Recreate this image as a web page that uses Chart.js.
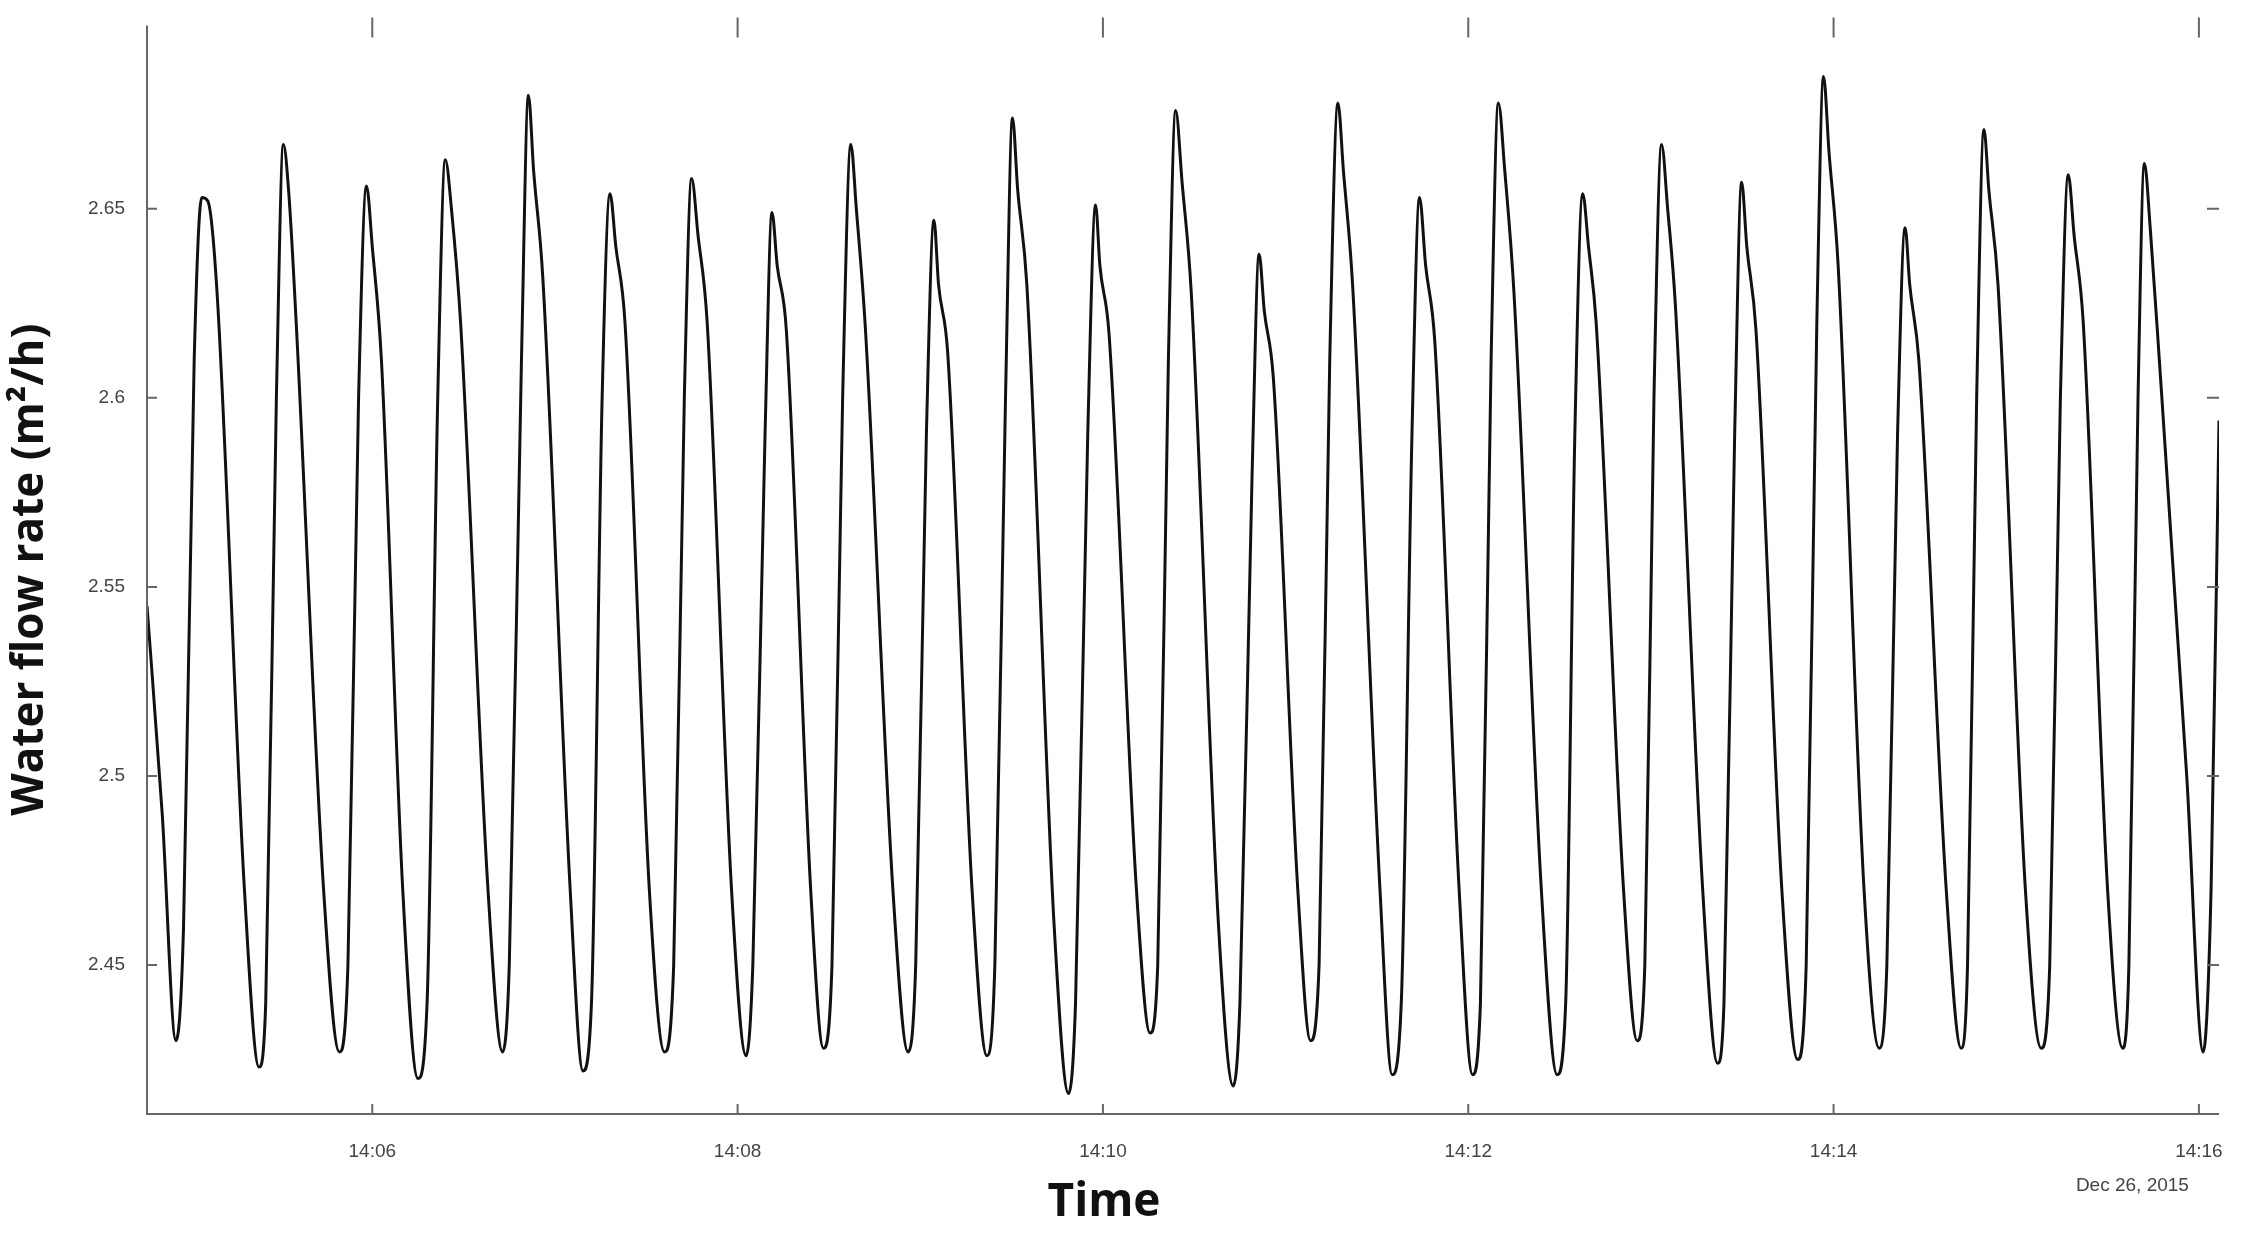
<!DOCTYPE html>
<html>
<head>
<meta charset="utf-8">
<script src="https://cdn.jsdelivr.net/npm/chart.js"></script>
<style>
  html, body { margin: 0; padding: 0; background: #fff; }
  #wrap { width: 2242px; height: 1244px; }
</style>
</head>
<body>
<div id="wrap"><canvas id="flowChart"></canvas></div>
<script>
// time in seconds after 14:00, flow in m2/h
const timeSec = [
  286, 291, 295.5, 298, 301.5, 304, 306, 309, 318, 322.8,
  325, 328.5, 330.8, 332.5, 335, 344, 349.2,
  352, 355.5, 358.1, 360, 363, 370, 375,
  378, 381.5, 384, 386, 389, 398, 402.8,
  405, 409, 411.3, 413, 416, 425, 429.2,
  432, 435.5, 438.1, 440, 443, 451, 456,
  459, 462.5, 464.9, 467, 470, 478, 482.8,
  485, 489, 491.3, 493, 496, 504, 508.2,
  511, 514.5, 517.2, 519, 522, 531, 536,
  538.5, 542, 544.5, 546, 549, 557, 561.9,
  564.5, 568, 570.3, 572, 575, 584, 588.7,
  591, 595, 597.6, 599, 602, 611, 615.5,
  618, 621.5, 623.9, 626, 629, 638, 642.8,
  645, 649, 651.3, 653, 656, 664, 668.2,
  671, 674.5, 677.2, 679, 682, 691, 695,
  698, 701.5, 704, 706, 709, 717, 721.4,
  724, 727.5, 729.9, 732, 735, 744, 749.2,
  752, 755, 757.6, 759.5, 762, 771, 775.5,
  778, 781, 783.5, 785.5, 788, 797, 801.9,
  804, 807.5, 809.8, 811.5, 814.5, 823, 828.2,
  831, 834.5, 836.7, 838.5, 841.5, 850, 855,
  857.5, 861, 863.5, 865, 868, 877, 881.9,
  884, 887, 889.4, 891, 894, 903, 908.2,
  911, 914.5, 917.1, 919, 922, 930, 935,
  937, 940, 942.1, 944, 947, 956, 961.4,
  964, 966.6
];
const flowRate = [
  2.545, 2.49, 2.43, 2.46, 2.61, 2.653, 2.652, 2.628, 2.47, 2.423,
  2.44, 2.60, 2.667, 2.655, 2.62, 2.47, 2.427,
  2.45, 2.60, 2.656, 2.64, 2.61, 2.47, 2.42,
  2.44, 2.60, 2.663, 2.65, 2.62, 2.47, 2.427,
  2.45, 2.61, 2.68, 2.66, 2.632, 2.47, 2.422,
  2.44, 2.60, 2.654, 2.64, 2.62, 2.47, 2.427,
  2.45, 2.60, 2.658, 2.643, 2.62, 2.47, 2.426,
  2.45, 2.59, 2.649, 2.635, 2.618, 2.47, 2.428,
  2.45, 2.60, 2.667, 2.65, 2.618, 2.47, 2.427,
  2.45, 2.59, 2.647, 2.63, 2.612, 2.47, 2.426,
  2.45, 2.60, 2.674, 2.655, 2.63, 2.46, 2.416,
  2.44, 2.59, 2.651, 2.635, 2.617, 2.47, 2.432,
  2.45, 2.61, 2.676, 2.657, 2.628, 2.46, 2.418,
  2.44, 2.58, 2.638, 2.623, 2.605, 2.47, 2.43,
  2.45, 2.61, 2.678, 2.66, 2.63, 2.47, 2.421,
  2.44, 2.59, 2.653, 2.635, 2.615, 2.47, 2.421,
  2.44, 2.61, 2.678, 2.66, 2.628, 2.47, 2.421,
  2.44, 2.59, 2.654, 2.64, 2.62, 2.47, 2.43,
  2.45, 2.60, 2.667, 2.65, 2.625, 2.47, 2.424,
  2.44, 2.59, 2.657, 2.64, 2.618, 2.47, 2.425,
  2.45, 2.62, 2.685, 2.665, 2.635, 2.47, 2.428,
  2.45, 2.59, 2.645, 2.63, 2.61, 2.47, 2.428,
  2.45, 2.60, 2.671, 2.655, 2.63, 2.47, 2.428,
  2.45, 2.60, 2.659, 2.643, 2.62, 2.47, 2.428,
  2.45, 2.60, 2.662, 2.645, 2.61, 2.50, 2.427,
  2.47, 2.594
];
const xTicks = [360, 480, 600, 720, 840, 960];
const yTicks = [2.45, 2.5, 2.55, 2.6, 2.65];

function fmtTime(s) {
  const m = Math.round(s / 60);
  return "14:" + String(m).padStart(2, "0");
}

const framePlugin = {
  id: "frame",
  afterDraw(chart) {
    const ctx = chart.ctx;
    const a = chart.chartArea;
    const xs = chart.scales.x, ys = chart.scales.y;
    ctx.save();
    ctx.strokeStyle = "#666";
    ctx.lineWidth = 2;
    ctx.beginPath();
    ctx.moveTo(a.left, a.top); ctx.lineTo(a.left, a.bottom); ctx.lineTo(a.right, a.bottom);
    xTicks.forEach(t => {
      const px = xs.getPixelForValue(t);
      ctx.moveTo(px, a.top - 8); ctx.lineTo(px, a.top + 12);
      ctx.moveTo(px, a.bottom); ctx.lineTo(px, a.bottom - 10);
    });
    yTicks.forEach(v => {
      const py = ys.getPixelForValue(v);
      ctx.moveTo(a.right, py); ctx.lineTo(a.right - 12, py);
      ctx.moveTo(a.left, py); ctx.lineTo(a.left + 10, py);
    });
    ctx.stroke();
    ctx.fillStyle = "#444";
    ctx.font = "19px 'Liberation Sans', Arial, sans-serif";
    ctx.textAlign = "right";
    ctx.textBaseline = "top";
    ctx.fillText("Dec 26, 2015", xs.getPixelForValue(960) - 10, a.bottom + 62);
    ctx.fillStyle = "#111";
    ctx.font = "bold 46px 'Open Sans', sans-serif";
    ctx.textAlign = "center";
    ctx.fillText("Time", 1104, a.bottom + 66);
    ctx.restore();
  }
};

new Chart(document.getElementById("flowChart"), {
  type: "line",
  data: {
    datasets: [{
      data: timeSec.map((t, i) => ({ x: t, y: flowRate[i] })),
      borderColor: "#111",
      borderWidth: 3,
      pointRadius: 0,
      cubicInterpolationMode: "monotone",
      fill: false
    }]
  },
  options: {
    responsive: true,
    maintainAspectRatio: false,
    animation: false,
    layout: { padding: { top: 22, right: 23, left: 0, bottom: 0 } },
    plugins: { legend: { display: false }, tooltip: { enabled: false } },
    scales: {
      x: {
        type: "linear",
        min: 286,
        max: 966.6,
        border: { display: false },
        grid: { display: false },
        afterBuildTicks: s => { s.ticks = xTicks.map(v => ({ value: v })); },
        afterFit: s => { s.height = 130; },
        ticks: {
          color: "#444",
          font: { size: 19, family: "'Liberation Sans', Arial, sans-serif" },
          padding: 18,
          maxRotation: 0,
          callback: v => fmtTime(v)
        }
      },
      y: {
        min: 2.4106,
        max: 2.6985,
        border: { display: false },
        grid: { display: false },
        afterBuildTicks: s => { s.ticks = yTicks.map(v => ({ value: v })); },
        afterFit: s => { s.width = 147; },
        ticks: {
          color: "#444",
          font: { size: 19, family: "'Liberation Sans', Arial, sans-serif" },
          padding: 14,
          callback: v => String(v)
        },
        title: {
          display: true,
          text: "Water flow rate (m²/h)",
          color: "#111",
          font: { size: 44, weight: "bold", family: "'Open Sans', sans-serif" },
          padding: { bottom: 4 }
        }
      }
    }
  },
  plugins: [framePlugin]
});
</script>
</body>
</html>
